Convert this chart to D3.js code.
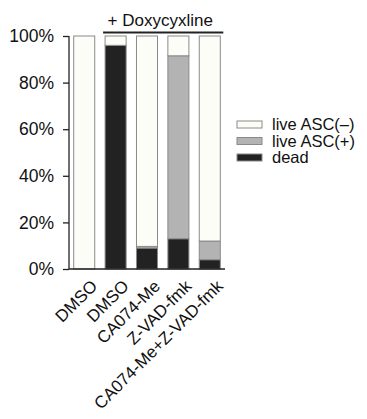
<!DOCTYPE html>
<html lang="en">
<head>
<meta charset="utf-8">
<title>ASC stacked bars</title>
<script src="https://cdn.jsdelivr.net/npm/d3@7"></script>
<style>
  body { margin: 0; background: white; }
  text { font-family: "Liberation Sans", Arial, sans-serif; fill: #111; }
</style>
</head>
<body>
<script>
// data
var categories = ["DMSO", "DMSO", "CA074-Me", "Z-VAD-fmk", "CA074-Me+Z-VAD-fmk"];
var dead       = [0, 96, 9, 13, 4];
var livePos    = [0, 0, 0.7, 78.5, 8];
var liveNeg    = [100, 4, 90.3, 8.5, 88];
var seriesNames = ["dead", "live ASC(+)", "live ASC(\u2013)"];
var seriesColors = ["#222222", "#b3b3b3", "#fdfdf8"];
var yTicks = [0, 20, 40, 60, 80, 100];
var bracketLabel = "+ Doxycyxline";

var width = 367, height = 419;
var svg = d3.select("body").append("svg")
    .attr("width", width)
    .attr("height", height);

var x = d3.scaleBand()
    .domain(d3.range(categories.length))
    .range([69, 225])
    .paddingInner(0.33)
    .paddingOuter(0.15);

var y = d3.scaleLinear()
    .domain([0, 100])
    .range([269, 36]);

// stacked rows
var rows = categories.map(function(c, i) {
    return { i: i, "dead": dead[i], "live ASC(+)": livePos[i], "live ASC(\u2013)": liveNeg[i] };
});
var stack = d3.stack().keys(seriesNames)(rows);

svg.append("g").selectAll("g")
    .data(stack)
    .join("g")
    .attr("fill", function(d, k) { return seriesColors[k]; })
    .selectAll("rect")
    .data(function(d) { return d.filter(function(p) { return p[1] - p[0] > 0; }); })
    .join("rect")
    .attr("x", function(d) { return x(d.data.i); })
    .attr("y", function(d) { return y(d[1]); })
    .attr("width", x.bandwidth())
    .attr("height", function(d) { return y(d[0]) - y(d[1]); })
    .attr("stroke", "#8a8a8a")
    .attr("stroke-width", 1);

// y axis
var yAxis = svg.append("g")
    .attr("transform", "translate(69,0)")
    .call(d3.axisLeft(y).tickValues(yTicks).tickSize(6).tickPadding(9)
        .tickFormat(function(d) { return d + "%"; }));
yAxis.select(".domain").attr("stroke", "#222").attr("stroke-width", 1.3).attr("d", "M0," + y(100) + "V" + y(0));
yAxis.selectAll(".tick line").attr("stroke", "#222").attr("stroke-width", 1.3);
yAxis.selectAll(".tick text").style("font-size", "17.5px").attr("fill", "#111");

// baseline
svg.append("line")
    .attr("x1", 69).attr("x2", 225)
    .attr("y1", y(0)).attr("y2", y(0))
    .attr("stroke", "#222").attr("stroke-width", 1.3);

// x labels, rotated
svg.append("g").selectAll("text")
    .data(categories)
    .join("text")
    .attr("transform", function(d, i) {
        return "translate(" + (x(i) + x.bandwidth() / 2 + 10) + "," + (y(0) + 14) + ") rotate(-45)";
    })
    .attr("text-anchor", "end")
    .attr("dy", "0.35em")
    .style("font-size", "17px")
    .text(function(d) { return d; });

// doxycycline bracket
var bx1 = x(1) - 2, bx2 = x(4) + x.bandwidth() + 3;
svg.append("line")
    .attr("x1", bx1).attr("x2", bx2)
    .attr("y1", 32.5).attr("y2", 32.5)
    .attr("stroke", "#222").attr("stroke-width", 2);
svg.append("text")
    .attr("x", (bx1 + bx2) / 2 - 3)
    .attr("y", 25.5)
    .attr("text-anchor", "middle")
    .style("font-size", "17px")
    .text(bracketLabel);

// legend (top to bottom: live ASC(-), live ASC(+), dead)
var legendOrder = [2, 1, 0];
var legend = svg.append("g").selectAll("g")
    .data(legendOrder)
    .join("g")
    .attr("transform", function(k, j) { return "translate(237," + (124.5 + j * 16.5) + ")"; });
legend.append("rect")
    .attr("x", 0).attr("y", -3.5)
    .attr("width", 25).attr("height", 7)
    .attr("fill", function(k) { return seriesColors[k]; })
    .attr("stroke", "#8a8a8a");
legend.append("text")
    .attr("x", 35).attr("y", 0)
    .attr("dy", "0.35em")
    .style("font-size", "16.5px")
    .text(function(k) { return seriesNames[k]; });
</script>
</body>
</html>
